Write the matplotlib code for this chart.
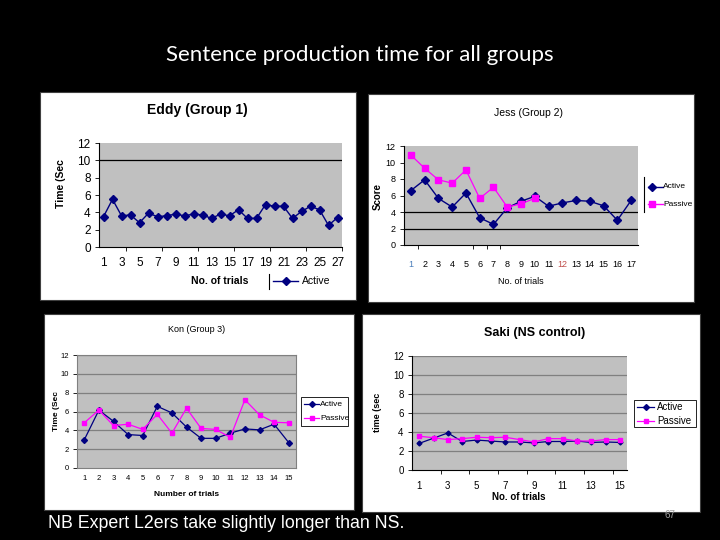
import matplotlib
matplotlib.use('Agg')
import matplotlib.pyplot as plt
from matplotlib.patches import Rectangle
from matplotlib.lines import Line2D

# data
eddy_trials = list(range(1, 28))
eddy_active = [3.5, 5.5, 3.6, 3.7, 2.8, 3.9, 3.5, 3.6, 3.8, 3.6, 3.8, 3.7, 3.3, 3.8,
               3.6, 4.3, 3.3, 3.3, 4.9, 4.7, 4.7, 3.3, 4.1, 4.7, 4.3, 2.5, 3.4]

jess_trials = list(range(1, 18))
jess_active = [6.6, 7.9, 5.65, 4.6, 6.3, 3.3, 2.5, 4.5, 5.3, 5.9, 4.7, 5.1, 5.4, 5.3,
               4.75, 3.0, 5.4]
jess_passive = [10.9, 9.3, 7.9, 7.5, 9.1, 5.65, 7.0, 4.6, 5.0, 5.65]

kon_trials = list(range(1, 16))
kon_active = [3.0, 6.15, 4.95, 3.55, 3.45, 6.55, 5.85, 4.35, 3.15, 3.15, 3.7, 4.15,
              4.05, 4.65, 2.7]
kon_passive = [4.8, 6.15, 4.5, 4.65, 4.1, 5.7, 3.7, 6.35, 4.2, 4.1, 3.25, 7.25,
               5.65, 4.85, 4.8]

saki_trials = list(range(1, 16))
saki_active = [2.8, 3.35, 3.9, 3.0, 3.15, 3.05, 2.95, 2.95, 2.85, 3.0, 3.0, 3.05,
               2.9, 2.95, 2.9]
saki_passive = [3.55, 3.4, 3.2, 3.3, 3.45, 3.4, 3.45, 3.2, 2.95, 3.3, 3.3, 3.05,
                3.05, 3.2, 3.2]

yticks = [0, 2, 4, 6, 8, 10, 12]

W, H = 720, 540
NAVY = '#000080'
MAG = '#FF00FF'
GREY = '#C0C0C0'
ARIAL = 'Liberation Sans'


def fx(x):
    return x / W


def fy(y):
    return 1 - y / H


def rect(x0, y0, x1, y1):
    return [x0 / W, 1 - y1 / H, (x1 - x0) / W, (y1 - y0) / H]


fig = plt.figure(figsize=(7.2, 5.4), dpi=100, facecolor='black')

# slide title + footer
fig.text(0.5, fy(55), 'Sentence production time for all groups', color='white',
         fontsize=16, family='Lato', ha='center', va='center')
fig.text(fx(48), fy(524), 'NB Expert L2ers take slightly longer than NS.', color='white',
         fontsize=12.8, family=ARIAL, ha='left', va='center')
fig.text(fx(670), fy(515), '67', color='#A0A0A0', fontsize=7, family=ARIAL,
         ha='center', va='center')

# white chart boxes
for (x0, y0, x1, y1) in [(40, 92, 356, 300), (368, 94, 694, 302),
                         (44, 314, 354, 510), (362, 314, 700, 512)]:
    fig.add_artist(Rectangle((fx(x0), fy(y1)), (x1 - x0) / W, (y1 - y0) / H,
                             transform=fig.transFigure, facecolor='white',
                             edgecolor='#404040', lw=0.8, zorder=0))


def setup(ax, n, fs, grid_vals, grid_color, pad):
    ax.set_facecolor(GREY)
    ax.set_xlim(0.5, n + 0.5)
    ax.set_ylim(0, 12)
    ax.set_yticks(yticks)
    for s in ['top', 'right']:
        ax.spines[s].set_visible(False)
    for s in ['left', 'bottom']:
        ax.spines[s].set_color('black')
        ax.spines[s].set_linewidth(0.8)
    for v in grid_vals:
        ax.axhline(v, color=grid_color, lw=0.9, zorder=1)
    ax.tick_params(axis='y', labelsize=fs, length=3, width=0.6, pad=3)
    ax.tick_params(axis='x', labelsize=fs, length=0, pad=pad)
    for lab in ax.get_xticklabels() + ax.get_yticklabels():
        lab.set_family(ARIAL)


# ---- Eddy (Group 1)
ax1 = fig.add_axes(rect(99, 143, 342, 247))
ax1.plot(eddy_trials, eddy_active, color=NAVY, marker='D', ms=4.5, lw=1, zorder=3)
ax1.set_xticks(eddy_trials[::2])
setup(ax1, 27, 8.5, [10], 'black', 7)
ax1.set_xticks([3.5, 7.5, 11.5, 15.5, 19.5, 23.5, 27.5], minor=True)
ax1.tick_params(axis='x', which='minor', length=3, width=0.6)
fig.text(fx(197), fy(110), 'Eddy (Group 1)', fontsize=10, weight='bold', family=ARIAL,
         ha='center', va='center')
fig.text(fx(61), fy(184), 'Time (Sec', fontsize=7.5, weight='bold', family=ARIAL,
         rotation=90, ha='center', va='center')
fig.text(fx(220), fy(281), 'No. of trials', fontsize=7.5, weight='bold', family=ARIAL,
         ha='center', va='center')
fig.add_artist(Line2D([fx(269), fx(269)], [fy(274), fy(289)], color='black', lw=0.8,
                      transform=fig.transFigure))
fig.add_artist(Line2D([fx(273), fx(298)], [fy(281), fy(281)], color=NAVY, lw=1,
                      transform=fig.transFigure))
fig.add_artist(Line2D([fx(286)], [fy(281)], color=NAVY, marker='D', ms=4, lw=0,
                      transform=fig.transFigure))
fig.text(fx(302), fy(281), 'Active', fontsize=7.5, family=ARIAL, ha='left', va='center')

# ---- Jess (Group 2)
ax2 = fig.add_axes(rect(404, 146, 638, 245))
ax2.plot(jess_trials, jess_active, color=NAVY, marker='D', ms=4, lw=1, zorder=3)
ax2.plot(jess_trials[:len(jess_passive)], jess_passive, color=MAG, marker='s', ms=4,
         lw=0.9, zorder=3)
ax2.set_xticks(jess_trials)
setup(ax2, 17, 6.5, [2, 4], 'black', 11)
ax2.set_xticks([1.5, 5.5, 6.5, 7.5], minor=True)
ax2.tick_params(axis='x', which='minor', length=3, width=0.6)
xl = ax2.get_xticklabels()
xl[0].set_color('#4A7EBB')
xl[11].set_color('#C0504D')
fig.text(fx(528), fy(113), 'Jess (Group 2)', fontsize=7.5, family=ARIAL,
         ha='center', va='center')
fig.text(fx(378), fy(196), 'Score', fontsize=7, weight='bold', family=ARIAL,
         rotation=90, ha='center', va='center')
fig.text(fx(521), fy(281), 'No. of trials', fontsize=6.5, family=ARIAL,
         ha='center', va='center')
fig.add_artist(Line2D([fx(644), fx(644)], [fy(177), fy(212)], color='black', lw=0.8,
                      transform=fig.transFigure))
for yy, col, mk, name in [(187, NAVY, 'D', 'Active'), (204, MAG, 's', 'Passive')]:
    fig.add_artist(Line2D([fx(648), fx(663)], [fy(yy), fy(yy)], color=col, lw=1,
                          transform=fig.transFigure))
    fig.add_artist(Line2D([fx(652)], [fy(yy)], color=col, marker=mk, ms=4, lw=0,
                          transform=fig.transFigure))
    fig.text(fx(663), fy(yy), name, fontsize=6, family=ARIAL, ha='left', va='center')

# ---- Kon (Group 3)
ax3 = fig.add_axes(rect(77, 355, 296, 468))
ax3.plot(kon_trials, kon_active, color=NAVY, marker='D', ms=3, lw=0.9, zorder=3)
ax3.plot(kon_trials, kon_passive, color=MAG, marker='s', ms=3.5, lw=0.9, zorder=3)
ax3.set_xticks(kon_trials)
setup(ax3, 15, 5.5, [2, 4, 6, 8, 10, 12], '#808080', 5)
for s in ['left', 'bottom', 'top', 'right']:
    ax3.spines[s].set_visible(True)
    ax3.spines[s].set_color('#808080')
fig.text(fx(197), fy(329), 'Kon (Group 3)', fontsize=6.5, family=ARIAL,
         ha='center', va='center')
fig.text(fx(57), fy(411), 'Time (Sec', fontsize=6, weight='bold', family=ARIAL,
         rotation=90, ha='center', va='center')
fig.text(fx(187), fy(494), 'Number of trials', fontsize=6, weight='bold', family=ARIAL,
         ha='center', va='center')
fig.add_artist(Rectangle((fx(301), fy(426)), 47 / W, 29 / H, transform=fig.transFigure,
                         facecolor='white', edgecolor='black', lw=0.6))
for yy, col, mk, name in [(404, NAVY, 'D', 'Active'), (418, MAG, 's', 'Passive')]:
    fig.add_artist(Line2D([fx(304), fx(319)], [fy(yy), fy(yy)], color=col, lw=0.9,
                          transform=fig.transFigure))
    fig.add_artist(Line2D([fx(311.5)], [fy(yy)], color=col, marker=mk, ms=3, lw=0,
                          transform=fig.transFigure))
    fig.text(fx(320), fy(yy), name, fontsize=6, family=ARIAL, ha='left', va='center')

# ---- Saki (NS control)
ax4 = fig.add_axes(rect(412, 356, 627, 470))
ax4.plot(saki_trials, saki_active, color=NAVY, marker='D', ms=2.5, lw=0.9, zorder=3)
ax4.plot(saki_trials, saki_passive, color=MAG, marker='s', ms=3.5, lw=0.9, zorder=3)
ax4.set_xticks(saki_trials[::2])
setup(ax4, 15, 7, [2, 4, 6, 8, 10, 12], '#808080', 8)
ax4.set_xticks([2.5, 4.5, 6.5, 8.5, 10.5, 12.5, 14.5], minor=True)
ax4.tick_params(axis='x', which='minor', length=3, width=0.6)
fig.text(fx(535), fy(333), 'Saki (NS control)', fontsize=9, weight='bold', family=ARIAL,
         ha='center', va='center')
fig.text(fx(378), fy(412), 'time (sec', fontsize=6.5, weight='bold', family=ARIAL,
         rotation=90, ha='center', va='center')
fig.text(fx(519), fy(497), 'No. of trials', fontsize=7, weight='bold', family=ARIAL,
         ha='center', va='center')
fig.add_artist(Rectangle((fx(634), fy(427)), 62 / W, 27 / H, transform=fig.transFigure,
                         facecolor='white', edgecolor='black', lw=0.6))
for yy, col, mk, name in [(407, NAVY, 'D', 'Active'), (421, MAG, 's', 'Passive')]:
    fig.add_artist(Line2D([fx(637), fx(654)], [fy(yy), fy(yy)], color=col, lw=0.9,
                          transform=fig.transFigure))
    fig.add_artist(Line2D([fx(645.5)], [fy(yy)], color=col, marker=mk, ms=3, lw=0,
                          transform=fig.transFigure))
    fig.text(fx(657), fy(yy), name, fontsize=7, family=ARIAL, ha='left', va='center')

fig.savefig('out.png', dpi=100, facecolor='black')
